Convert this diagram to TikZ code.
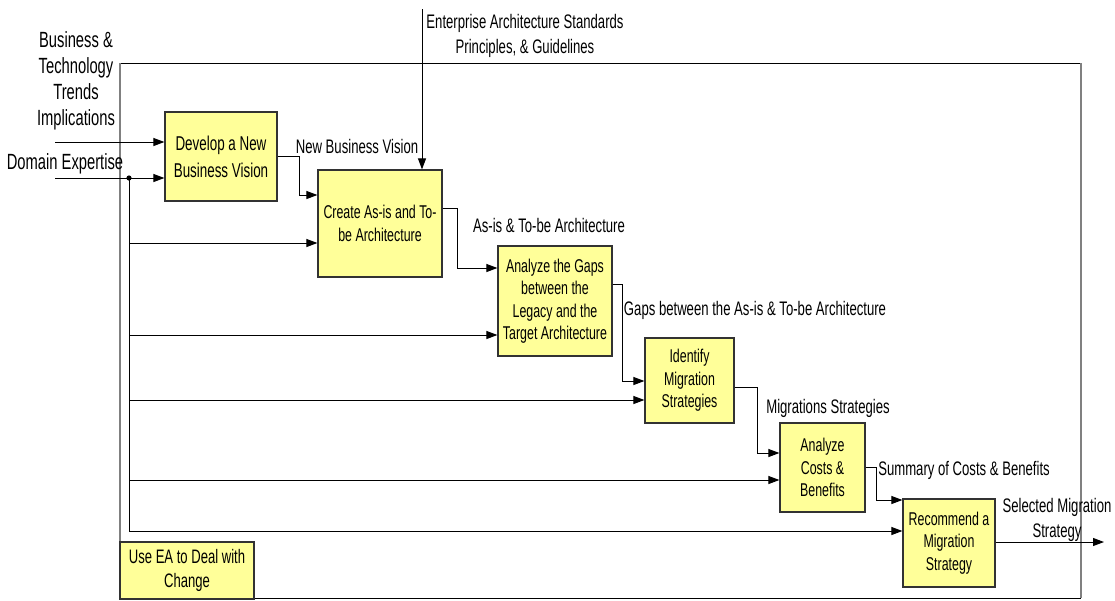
\documentclass[tikz,border=0pt]{standalone}
\usepackage{fontspec}
\setmainfont{Liberation Sans}[FakeStretch=0.67]
\usetikzlibrary{arrows.meta}
\definecolor{boxfill}{RGB}{255,255,153}
\definecolor{boxline}{RGB}{50,50,50}
\tikzset{
  box/.style={draw=boxline, line width=1.2pt, fill=boxfill, align=center,
    inner sep=0pt, font=\fontsize{18.5}{22.5}\selectfont},
  lbl/.style={align=center, inner sep=0pt, font=\fontsize{19.6}{25}\selectfont},
  biglbl/.style={lbl, font=\fontsize{22}{26}\selectfont},
  flow/.style={draw=black, line width=1pt, -{Triangle[length=11pt,width=8pt]}},
  wire/.style={draw=black, line width=1pt},
}
\begin{document}
\begin{tikzpicture}[x=1pt, y=-1pt]
\useasboundingbox (0,0) rectangle (1115,600);

% outer frame of the activity
\draw[black, line width=1pt] (120,63) -- (1081,63);
\draw[black, line width=1pt] (120,598) -- (1081,598);
\draw[gray, line width=1.6pt] (120,63) -- (120,598);
\draw[gray, line width=1.2pt] (1081,63) -- (1081,598);

% activity boxes
\node[box, minimum width=112pt, minimum height=89pt, font=\fontsize{20}{27}\selectfont]
  (b1) at (221,156.5) {Develop a New\\Business Vision};
\node[box, minimum width=124pt, minimum height=107pt]
  (b2) at (380,223.5) {Create As-is and To-\\be Architecture};
\node[box, minimum width=114pt, minimum height=110pt]
  (b3) at (555,301) {Analyze the Gaps\\between the\\Legacy and the\\Target Architecture};
\node[box, minimum width=89pt, minimum height=85pt]
  (b4) at (689.5,380.5) {Identify\\Migration\\Strategies};
\node[box, minimum width=85pt, minimum height=89pt]
  (b5) at (822.5,467.5) {Analyze\\Costs \&\\Benefits};
\node[box, minimum width=92pt, minimum height=88pt]
  (b6) at (949,543) {Recommend a\\Migration\\Strategy};
\node[box, minimum width=134pt, minimum height=57pt, font=\fontsize{19.5}{24}\selectfont]
  (b7) at (187,570.5) {Use EA to Deal with\\Change};

% external labels
\node[biglbl] (tl) at (76,81) {Business \&\\Technology\\Trends\\Implications};
\node[biglbl] (dl) at (65,164) {Domain Expertise};
\node[lbl] (el) at (525,35.5) {Enterprise Architecture Standards\\Principles, \& Guidelines};
\node[lbl] (l12) at (357,146) {New Business Vision};
\node[lbl] (l23) at (549,225) {As-is \& To-be Architecture};
\node[lbl] (l34) at (755,310) {Gaps between the As-is \& To-be Architecture};
\node[lbl] (l45) at (828,408) {Migrations Strategies};
\node[lbl] (l56) at (964,470) {Summary of Costs \& Benefits};
\node[lbl] (lout) at (1057,520) {Selected Migration\\Strategy};

% inputs
\coordinate (in1) at (55,142);
\coordinate (in2) at (55,178);
\coordinate (j) at (129,178);
\coordinate (ctl) at (422,9);
\coordinate (out) at (1104,542);
\draw[flow] (in1) -- (b1.west |- in1);
\draw[flow] (in2) -- (b1.west |- in2);
\fill (j) circle (2.6pt);
\draw[flow] (ctl) -- (b2.north -| ctl);

% domain expertise distributed to every activity
\draw[wire] (j) -- (j |- 0,531);
\draw[flow] (j |- 0,243) -- (b2.west |- 0,243);
\draw[flow] (j |- 0,335) -- (b3.west |- 0,335);
\draw[flow] (j |- 0,400) -- (b4.west |- 0,400);
\draw[flow] (j |- 0,480) -- (b5.west |- 0,480);
\draw[flow] (j |- 0,531) -- (b6.west |- 0,531);

% outputs feeding the next activity
\draw[flow] (b1.east |- 0,156) -| (299,195) -- (b2.west |- 0,195);
\draw[flow] (b2.east |- 0,208) -| (457,268) -- (b3.west |- 0,268);
\draw[flow] (b3.east |- 0,284) -| (622,381) -- (b4.west |- 0,381);
\draw[flow] (b4.east |- 0,387) -| (757,453) -- (b5.west |- 0,453);
\draw[flow] (b5.east |- 0,467) -| (876,500) -- (b6.west |- 0,500);
\draw[flow] (b6.east |- out) -- (out);
\end{tikzpicture}
\end{document}
